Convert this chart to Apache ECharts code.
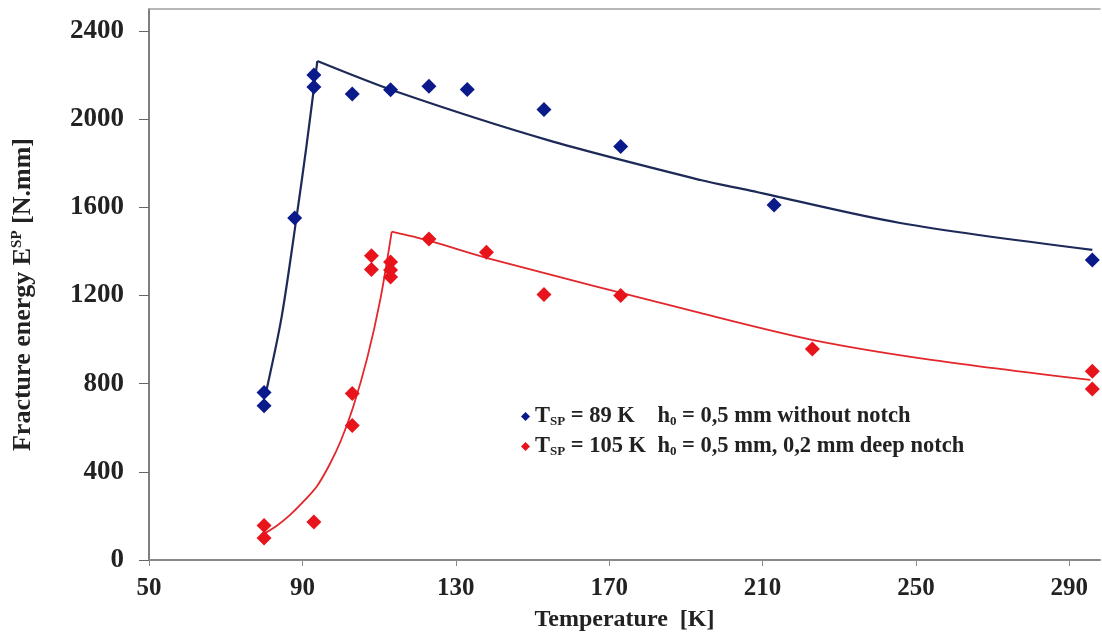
<!DOCTYPE html>
<html>
<head>
<meta charset="utf-8">
<script src="https://cdn.jsdelivr.net/npm/echarts@6/dist/echarts.min.js"></script>
<style>
    html, body { margin: 0; padding: 0; background: #fff; }
    #chart { width: 1102px; height: 639px; }
</style>
</head>
<body>
<div id="chart"></div>
<script>
var blueT = [80, 80, 88, 93, 93, 103, 113, 123, 133, 153, 173, 213, 296];
var blueE = [760, 700, 1552, 2200, 2146, 2114, 2134, 2150, 2135, 2044, 1876, 1611, 1361];

var redT = [80, 80, 93, 103, 103, 108, 108, 113, 113, 113, 123, 138, 153, 173, 223, 296, 296];
var redE = [157, 100, 172, 756, 610, 1380, 1318, 1352, 1316, 1284, 1456, 1396, 1205, 1200, 957, 856, 776];

// fitted curves
var blueUpT = [80.7, 84.6, 88.5, 91, 93.9];
var blueUpE = [775, 1104, 1558, 1870, 2264];
var blueDownT = [93.9, 115, 153.8, 193.8, 206.8, 245.9, 296];
var blueDownE = [2264, 2122, 1906, 1724, 1676, 1529, 1407];

var redUpT = [80.3, 83.5, 86.8, 90, 93.8, 97, 100, 103.2, 106.9, 110.3, 113.3];
var redUpE = [122, 158, 205, 260, 335, 430, 540, 692, 916, 1180, 1490];
var redDownT = [113.3, 122.8, 138.2, 193.7, 223.2, 254.5, 295.5];
var redDownE = [1490, 1450, 1370, 1121, 998, 907, 817];

var xTicks = [50, 90, 130, 170, 210, 250, 290];
var yTicks = [0, 400, 800, 1200, 1600, 2000, 2400];

var FONT = '"Liberation Serif", "Times New Roman", serif';

function zip(xs, ys) {
    var out = [];
    for (var i = 0; i < xs.length; i++) {
        out.push([xs[i], ys[i]]);
    }
    return out;
}

function curve(data, color, width) {
    return {
        type: 'line',
        data: data,
        showSymbol: false,
        smooth: 0.3,
        silent: true,
        z: 2,
        lineStyle: { color: color, width: width }
    };
}

var legendText = {
    blue: '{t|T}{s|SP}{t| = 89 K    h}{s|0}{t| = 0,5 mm without notch}',
    red: '{t|T}{s|SP}{t| = 105 K  h}{s|0}{t| = 0,5 mm, 0,2 mm deep notch}'
};

var chart = echarts.init(document.getElementById('chart'));
var option = {
    animation: false,
    backgroundColor: '#fff',
    grid: { left: 149, right: 2, top: 9, bottom: 79 },
    legend: {
        orient: 'vertical',
        left: 516,
        top: 400,
        itemWidth: 9,
        itemHeight: 9,
        itemGap: 7,
        data: [{ name: 'blue', icon: 'diamond' }, { name: 'red', icon: 'diamond' }],
        formatter: function(name) { return legendText[name]; },
        textStyle: {
            rich: {
                t: { fontFamily: FONT, fontWeight: 'bold', fontSize: 22.5, color: '#222', lineHeight: 23 },
                s: { fontFamily: FONT, fontWeight: 'bold', fontSize: 13, color: '#222', lineHeight: 23, verticalAlign: 'bottom', padding: [8, 0, 0, 0] }
            }
        }
    },
    xAxis: [{
        type: 'value',
        min: 50,
        max: 298,
        interval: 40,
        splitLine: { show: false },
        axisLine: { onZero: false, lineStyle: { color: '#8a8a8a', width: 2 } },
        axisTick: { length: 6, customValues: xTicks, lineStyle: { color: '#8a8a8a', width: 1 } },
        axisLabel: {
            customValues: xTicks,
            margin: 16,
            fontFamily: FONT, fontWeight: 'bold', fontSize: 25, color: '#222'
        },
        name: 'Temperature  [K]',
        nameLocation: 'middle',
        nameGap: 48,
        nameTextStyle: { fontFamily: FONT, fontWeight: 'bold', fontSize: 24, color: '#222' }
    }, {
        type: 'value',
        position: 'top',
        min: 50,
        max: 298,
        splitLine: { show: false },
        axisLine: { onZero: false, lineStyle: { color: '#a0a0a0', width: 1.5 } },
        axisTick: { show: false },
        axisLabel: { show: false }
    }],
    yAxis: {
        type: 'value',
        min: 0,
        max: 2500,
        interval: 400,
        splitLine: { show: false },
        axisLine: { show: true, onZero: false, lineStyle: { color: '#555', width: 1.5 } },
        axisTick: { show: true, length: 10, customValues: yTicks, lineStyle: { color: '#666', width: 1 } },
        axisLabel: {
            customValues: yTicks,
            margin: 25,
            formatter: function(v) { return String(v); },
            fontFamily: FONT, fontWeight: 'bold', fontSize: 27, color: '#222'
        },
        name: 'Fracture energy E{sup|SP} [N.mm]',
        nameLocation: 'middle',
        nameGap: 113,
        nameTextStyle: {
            fontFamily: FONT, fontWeight: 'bold', fontSize: 26, color: '#222',
            padding: [0, 20, 0, 0],
            rich: {
                sup: { fontFamily: FONT, fontWeight: 'bold', fontSize: 15, color: '#222', verticalAlign: 'top', padding: [0, 0, 10, 0] }
            }
        }
    },
    series: [
        curve(zip(blueUpT, blueUpE), '#1d2a58', 2.2),
        curve(zip(blueDownT, blueDownE), '#1d2a58', 2.2),
        curve(zip(redUpT, redUpE), '#e3262b', 1.8),
        curve(zip(redDownT, redDownE), '#e3262b', 1.8),
        {
            name: 'blue',
            type: 'scatter',
            symbol: 'diamond',
            symbolSize: [15, 15],
            z: 3,
            itemStyle: { color: '#0a1a8a', opacity: 1 },
            data: zip(blueT, blueE)
        },
        {
            name: 'red',
            type: 'scatter',
            symbol: 'diamond',
            symbolSize: [15, 15],
            z: 3,
            itemStyle: { color: '#e8141c', opacity: 1 },
            data: zip(redT, redE)
        }
    ]
};
chart.setOption(option);
</script>
</body>
</html>
